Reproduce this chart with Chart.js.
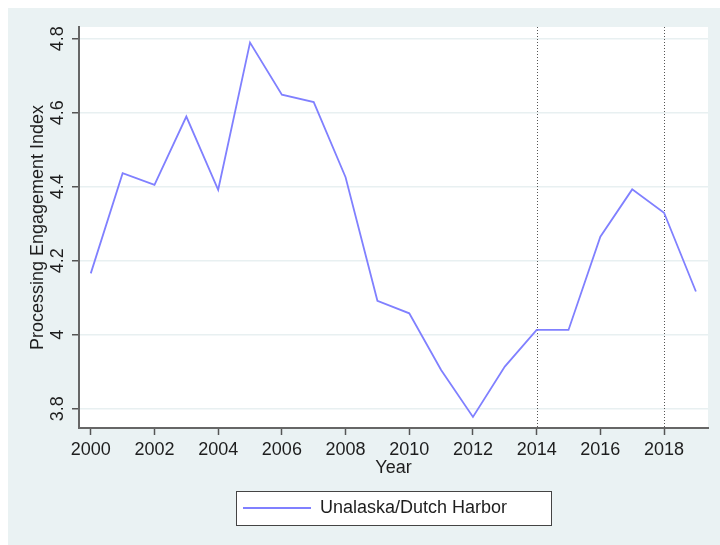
<!DOCTYPE html>
<html>
<head>
<meta charset="utf-8">
<script src="https://cdn.jsdelivr.net/npm/chart.js@4.4.1/dist/chart.umd.min.js"></script>
<style>
  html, body { margin: 0; padding: 0; background: #ffffff; }
  #c { display: block; }
</style>
</head>
<body>
<canvas id="c" width="720" height="545"></canvas>
<script>
// ---- data ----
const years = [2000, 2001, 2002, 2003, 2004, 2005, 2006, 2007, 2008, 2009,
               2010, 2011, 2012, 2013, 2014, 2015, 2016, 2017, 2018, 2019];
const engagement = [4.166, 4.437, 4.405, 4.590, 4.392, 4.790, 4.649, 4.629, 4.426, 4.092,
                    4.058, 3.905, 3.778, 3.914, 4.013, 4.013, 4.265, 4.393, 4.330, 4.117];
const xTicks = [2000, 2002, 2004, 2006, 2008, 2010, 2012, 2014, 2016, 2018];
const xTickLabels = ['2000', '2002', '2004', '2006', '2008', '2010', '2012', '2014', '2016', '2018'];
const yTicks = [3.8, 4.0, 4.2, 4.4, 4.6, 4.8];
const yTickLabels = ['3.8', '4', '4.2', '4.4', '4.6', '4.8'];
const refYears = [2014, 2018];
const seriesName = 'Unalaska/Dutch Harbor';
const xTitle = 'Year';
const yTitle = 'Processing Engagement Index';

// ---- style ----
const FONT = { family: '"Liberation Sans", Arial, sans-serif', size: 18 };
const TEXT = '#1e1e1e';
const BG = '#eaf2f3';
const LINE = 'rgb(128,128,255)';

const frame = {
  id: 'frame',
  afterUpdate(chart) {
    const lg = chart.legend;
    if (!lg || !lg.legendHitBoxes || !lg.legendHitBoxes.length) return;
    const hb = lg.legendHitBoxes[0];
    const delta = 243 - hb.left;
    lg.left += delta; lg.right += delta; hb.left += delta;
  },
  legendRect(chart) {
    const lg = chart.legend;
    const hb = lg.legendHitBoxes[0];
    const cy = lg.top + lg.options.labels.padding + hb.height / 2;
    return { x: hb.left - 7, y: cy - 17, w: 315, h: 34 };
  },
  beforeDraw(chart) {
    const ctx = chart.ctx, a = chart.chartArea;
    ctx.save();
    ctx.fillStyle = '#ffffff';
    ctx.fillRect(0, 0, chart.width, chart.height);
    ctx.fillStyle = BG;
    ctx.fillRect(8, 8, chart.width - 8, chart.height - 8);
    ctx.fillStyle = '#ffffff';
    ctx.fillRect(a.left, a.top, a.right - a.left, a.bottom - a.top);
    const r = this.legendRect(chart);
    ctx.fillRect(r.x, r.y, r.w, r.h);
    ctx.restore();
  },
  beforeDatasetsDraw(chart) {
    const ctx = chart.ctx, a = chart.chartArea, xs = chart.scales.x;
    ctx.save();
    ctx.strokeStyle = '#555555';
    ctx.lineWidth = 1;
    ctx.setLineDash([1, 2]);
    refYears.forEach(yr => {
      const px = Math.round(xs.getPixelForValue(yr)) + 0.5;
      ctx.beginPath();
      ctx.moveTo(px, a.top);
      ctx.lineTo(px, a.bottom);
      ctx.stroke();
    });
    ctx.restore();
  },
  afterDraw(chart) {
    const ctx = chart.ctx;
    const r = this.legendRect(chart);
    ctx.save();
    ctx.strokeStyle = '#444444';
    ctx.lineWidth = 1;
    ctx.strokeRect(Math.round(r.x) + 0.5, Math.round(r.y) + 0.5, r.w, r.h);
    ctx.restore();
  }
};

new Chart(document.getElementById('c'), {
  type: 'line',
  data: {
    datasets: [{
      label: seriesName,
      data: years.map((y, i) => ({ x: y, y: engagement[i] })),
      borderColor: LINE,
      backgroundColor: LINE,
      borderWidth: 1.8,
      pointRadius: 0,
      tension: 0,
      fill: false
    }]
  },
  options: {
    responsive: false,
    animation: false,
    devicePixelRatio: 1,
    layout: { padding: { left: 0, top: 27, right: 12, bottom: 18 } },
    plugins: {
      tooltip: { enabled: false },
      legend: {
        position: 'bottom',
        labels: {
          usePointStyle: true,
          pointStyle: 'line',
          pointStyleWidth: 68,
          padding: 19,
          color: TEXT,
          font: FONT
        }
      }
    },
    scales: {
      x: {
        type: 'linear',
        min: 1999.63,
        max: 2019.38,
        afterBuildTicks: s => { s.ticks = xTicks.map(v => ({ value: v })); },
        afterFit: s => { s.height = 52; },
        grid: { drawOnChartArea: false, drawTicks: true, tickLength: 7, tickColor: '#555555', tickWidth: 1.5 },
        border: { color: '#666666', width: 2 },
        ticks: {
          autoSkip: false, maxRotation: 0, padding: 4, color: TEXT, font: FONT,
          callback: (v, i) => xTickLabels[i]
        },
        title: { display: true, text: xTitle, color: TEXT, font: FONT, padding: { top: 0, bottom: 1 } }
      },
      y: {
        type: 'linear',
        min: 3.748,
        max: 4.832,
        afterBuildTicks: s => { s.ticks = yTicks.map(v => ({ value: v })); },
        afterFit: s => { s.width = 79; },
        grid: { color: '#e8f0f1', lineWidth: 1.5, drawTicks: true, tickLength: 7, tickColor: '#555555', tickWidth: 1.5 },
        border: { color: '#666666', width: 2 },
        ticks: {
          autoSkip: false, minRotation: 90, maxRotation: 90, crossAlign: 'center', padding: 1,
          color: TEXT, font: FONT,
          callback: (v, i) => yTickLabels[i]
        },
        title: { display: true, text: yTitle, color: TEXT, font: FONT, padding: { top: 27, bottom: 0 } }
      }
    }
  },
  plugins: [frame]
});
</script>
</body>
</html>
